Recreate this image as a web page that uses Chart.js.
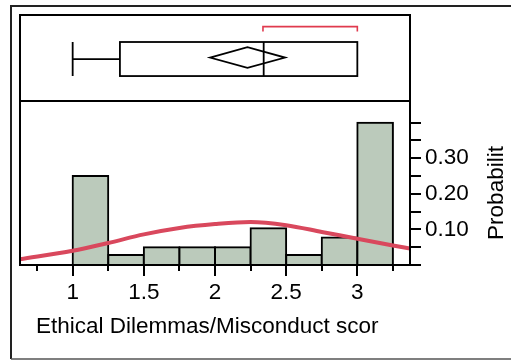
<!DOCTYPE html>
<html>
<head>
<meta charset="utf-8">
<script src="https://cdn.jsdelivr.net/npm/chart.js@4/dist/chart.umd.min.js"></script>
<style>
  html, body { margin: 0; padding: 0; background: #ffffff; }
  #wrap { position: relative; width: 511px; height: 360px; }
  canvas { display: block; }
</style>
</head>
<body>
<div id="wrap"><canvas id="c" width="511" height="360"></canvas></div>
<script>
// ---- data ----
const binCenters = [1.125, 1.375, 1.625, 1.875, 2.125, 2.375, 2.625, 2.875, 3.125];
const binProbabilities = [0.25, 0.028, 0.05, 0.05, 0.05, 0.103, 0.028, 0.077, 0.40];
const curveX = [0.63, 1.0, 1.25, 1.5, 1.75, 2.0, 2.25, 2.5, 2.75, 3.0, 3.25, 3.37];
const curveY = [0.016, 0.040, 0.062, 0.086, 0.104, 0.115, 0.121, 0.112, 0.093, 0.074, 0.055, 0.046];
const boxStats = [1.0, 1.332, 2.342, 3.0, 3.0];      // min, q1, median, q3, max
const meanDiamond = [1.965, 2.228, 2.492];           // lower CI, mean, upper CI
const shortestHalf = [2.337, 3.0];
const xTickLabels = [1, 1.5, 2, 2.5, 3];
const xMinorTicks = [0.75, 1.25, 1.75, 2.25, 2.75, 3.25];
const yTickValues = [0, 0.05, 0.10, 0.15, 0.20, 0.25, 0.30, 0.35, 0.40];
const yTickLabels = [0.10, 0.20, 0.30];
const xTitle = 'Ethical Dilemmas/Misconduct scor';
const yTitle = 'Probabilit';

const FONT = '"Liberation Sans", Arial, sans-serif';
const FSIZE = 22.5;

const framePlugin = {
  id: 'framePlugin',
  afterDraw(chart) {
    const ctx = chart.ctx;
    const xs = chart.scales.x;
    const ca = chart.chartArea;
    const panelTop = 15;
    const panelBottom = ca.top;
    const px = v => xs.getPixelForValue(v);
    ctx.save();
    // outer frame
    ctx.strokeStyle = '#222';
    ctx.lineWidth = 2;
    ctx.beginPath();
    ctx.moveTo(511, 6); ctx.lineTo(11, 6); ctx.lineTo(11, 359);
    ctx.stroke();
    ctx.strokeStyle = '#555';
    ctx.lineWidth = 1.5;
    ctx.beginPath();
    ctx.moveTo(11, 359); ctx.lineTo(511, 359);
    ctx.stroke();

    // panel frames
    ctx.strokeStyle = '#000';
    ctx.lineWidth = 2;
    ctx.beginPath();
    ctx.moveTo(ca.left, ca.bottom); ctx.lineTo(ca.left, panelTop);
    ctx.lineTo(ca.right, panelTop); ctx.lineTo(ca.right, ca.bottom);
    ctx.moveTo(ca.left, panelBottom); ctx.lineTo(ca.right, panelBottom);
    ctx.stroke();

    // minor x ticks
    ctx.lineWidth = 2;
    ctx.beginPath();
    xMinorTicks.forEach(v => {
      const x = Math.round(px(v));
      ctx.moveTo(x, ca.bottom); ctx.lineTo(x, ca.bottom + 6);
    });
    ctx.stroke();

    // box plot
    const h = panelBottom - panelTop;
    const yTop = panelTop + h * 0.314;
    const yBot = panelTop + h * 0.71;
    const yMid = (yTop + yBot) / 2;
    ctx.lineWidth = 1.8;
    ctx.strokeStyle = '#000';
    ctx.beginPath();
    // lower whisker + cap
    ctx.moveTo(px(boxStats[0]), yMid); ctx.lineTo(px(boxStats[1]), yMid);
    ctx.moveTo(px(boxStats[0]), yTop); ctx.lineTo(px(boxStats[0]), yBot);
    // upper whisker
    ctx.moveTo(px(boxStats[3]), yMid); ctx.lineTo(px(boxStats[4]), yMid);
    ctx.stroke();
    ctx.strokeRect(px(boxStats[1]), yTop, px(boxStats[3]) - px(boxStats[1]), yBot - yTop);
    ctx.beginPath();
    ctx.moveTo(px(boxStats[2]), yTop); ctx.lineTo(px(boxStats[2]), yBot);
    ctx.stroke();
    // mean diamond
    const dTop = panelTop + h * 0.375;
    const dBot = panelTop + h * 0.615;
    const dMid = (dTop + dBot) / 2;
    ctx.beginPath();
    ctx.moveTo(px(meanDiamond[0]), dMid);
    ctx.lineTo(px(meanDiamond[1]), dTop);
    ctx.lineTo(px(meanDiamond[2]), dMid);
    ctx.lineTo(px(meanDiamond[1]), dBot);
    ctx.closePath();
    ctx.stroke();
    // shortest half bracket
    const bY = panelTop + h * 0.135;
    ctx.strokeStyle = '#e03a4e';
    ctx.lineWidth = 1.6;
    ctx.beginPath();
    ctx.moveTo(px(shortestHalf[0]), bY + 5); ctx.lineTo(px(shortestHalf[0]), bY);
    ctx.lineTo(px(shortestHalf[1]), bY); ctx.lineTo(px(shortestHalf[1]), bY + 5);
    ctx.stroke();

    // titles
    ctx.fillStyle = '#000';
    ctx.font = FSIZE + 'px ' + FONT;
    ctx.textBaseline = 'middle';
    ctx.textAlign = 'left';
    ctx.fillText(xTitle, 36, 327);
    ctx.translate(497, (ca.top + ca.bottom) / 2 + 10);
    ctx.rotate(-Math.PI / 2);
    ctx.textAlign = 'center';
    ctx.fillText(yTitle, 0, 0);
    ctx.restore();
  }
};

new Chart(document.getElementById('c'), {
  type: 'bar',
  data: {
    datasets: [
      {
        type: 'line',
        data: curveX.map((x, i) => ({ x: x, y: curveY[i] })),
        borderColor: '#d9485d',
        borderWidth: 4,
        pointRadius: 0,
        cubicInterpolationMode: 'monotone',
        fill: false,
        order: 0
      },
      {
        type: 'bar',
        data: binCenters.map((x, i) => ({ x: x, y: binProbabilities[i] })),
        backgroundColor: '#bbcabb',
        borderColor: '#000',
        borderWidth: 2,
        borderSkipped: 'start',
        inflateAmount: 1,
        barPercentage: 1,
        categoryPercentage: 1,
        order: 1
      }
    ]
  },
  options: {
    responsive: false,
    animation: false,
    events: [],
    layout: { padding: { left: 20, top: 101, right: 0, bottom: 0 } },
    plugins: { legend: { display: false }, tooltip: { enabled: false } },
    scales: {
      x: {
        type: 'linear',
        min: 0.63,
        max: 3.37,
        offset: false,
        afterFit: s => { s.height = 95; },
        afterBuildTicks: s => { s.ticks = xTickLabels.map(v => ({ value: v })); },
        grid: { offset: false, drawOnChartArea: false, drawTicks: true, tickLength: 11, color: '#000', lineWidth: 2 },
        border: { display: true, color: '#000', width: 2 },
        ticks: { color: '#000', font: { family: FONT, size: FSIZE }, padding: 3, maxRotation: 0, autoSkip: false,
                 callback: v => String(v) }
      },
      y: {
        type: 'linear',
        position: 'right',
        min: 0,
        max: 0.461,
        afterFit: s => { s.width = 101; },
        afterBuildTicks: s => { s.ticks = yTickValues.map(v => ({ value: v })); },
        grid: { drawOnChartArea: false, drawTicks: true, tickLength: 11, color: '#000', lineWidth: 2 },
        border: { display: true, color: '#000', width: 2 },
        ticks: { color: '#000', font: { family: FONT, size: FSIZE }, padding: 4, autoSkip: false,
                 callback: v => (yTickLabels.some(t => Math.abs(t - v) < 1e-9) ? v.toFixed(2) : '') }
      }
    }
  },
  plugins: [framePlugin]
});
</script>
</body>
</html>
